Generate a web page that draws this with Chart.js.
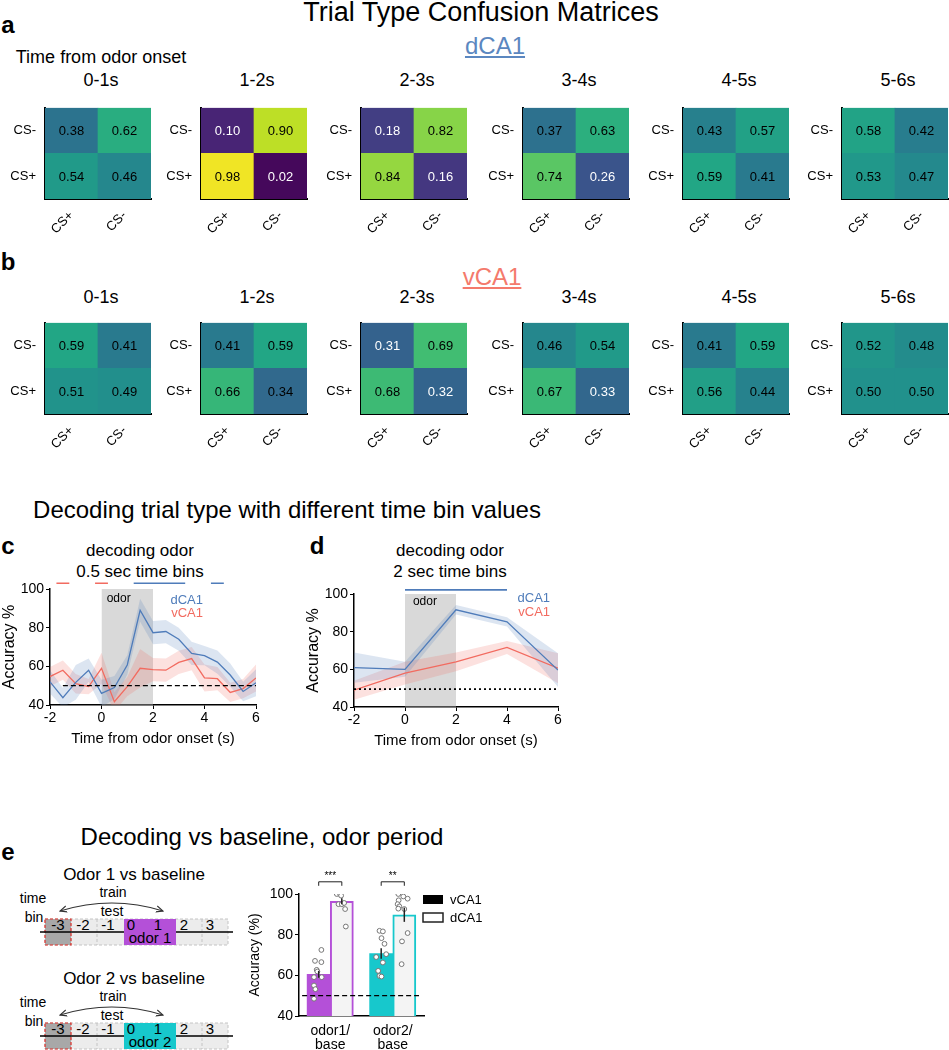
<!DOCTYPE html>
<html>
<head>
<meta charset="utf-8">
<script src="https://cdn.jsdelivr.net/npm/chart.js@4.4.1/dist/chart.umd.min.js"></script>
<style>
  body { margin: 0; background: #fff; }
  #fig { position: relative; width: 949px; height: 1050px; overflow: hidden; background: #fff;
         font-family: 'Liberation Sans', Arial, sans-serif; color: #000; }
  .t { position: absolute; transform: translate(-50%, -50%); white-space: nowrap; line-height: 1; }
  .p { font-weight: bold; font-size: 24px; }
  canvas { position: absolute; }
  svg { position: absolute; left: 0; top: 0; }
</style>
</head>
<body>
<div id="fig">
  <div class="t" style="left:481px;top:12px;font-size:27px">Trial Type Confusion Matrices</div>
  <div class="t p" style="left:8px;top:25px">a</div>
  <div class="t" style="left:495px;top:46px;font-size:24px;color:#5b87c0;text-decoration:underline">dCA1</div>
  <div class="t" style="left:101px;top:57px;font-size:18px">Time from odor onset</div>
  <div class="t p" style="left:8px;top:262px">b</div>
  <div class="t" style="left:492px;top:277px;font-size:24px;color:#f47a6c;text-decoration:underline">vCA1</div>

  <div class="t" style="left:287px;top:510px;font-size:24px">Decoding trial type with different time bin values</div>
  <div class="t p" style="left:8px;top:546px">c</div>
  <div class="t" style="left:140px;top:550px;font-size:17px">decoding odor</div>
  <div class="t" style="left:140px;top:571px;font-size:17px">0.5 sec time bins</div>
  <div class="t p" style="left:317px;top:546px">d</div>
  <div class="t" style="left:450px;top:550px;font-size:17px">decoding odor</div>
  <div class="t" style="left:450px;top:571px;font-size:17px">2 sec time bins</div>

  <div class="t" style="left:262px;top:837px;font-size:24px">Decoding vs baseline, odor period</div>
  <div class="t p" style="left:8px;top:852px">e</div>
  <svg id="schem" width="240" height="1050"></svg>
</div>
<script>
// ---- confusion matrices (rows: true CS-, CS+ ; columns: predicted CS+, CS-)
const timeBins = ['0-1s', '1-2s', '2-3s', '3-4s', '4-5s', '5-6s'];
const trueLabels = ['CS-', 'CS+'];
const predLabels = ['CS+', 'CS-'];
const dCA1RowMinus = [[0.38, 0.62], [0.10, 0.90], [0.18, 0.82], [0.37, 0.63], [0.43, 0.57], [0.58, 0.42]];
const dCA1RowPlus  = [[0.54, 0.46], [0.98, 0.02], [0.84, 0.16], [0.74, 0.26], [0.59, 0.41], [0.53, 0.47]];
const vCA1RowMinus = [[0.59, 0.41], [0.41, 0.59], [0.31, 0.69], [0.46, 0.54], [0.41, 0.59], [0.52, 0.48]];
const vCA1RowPlus  = [[0.51, 0.49], [0.66, 0.34], [0.68, 0.32], [0.67, 0.33], [0.56, 0.44], [0.50, 0.50]];

// ---- decoding accuracy, 0.5 s bins
const times05 = [-2, -1.5, -1, -0.5, 0, 0.5, 1, 1.5, 2, 2.5, 3, 3.5, 4, 4.5, 5, 5.5, 6];
const dCA1Acc05 = [52, 43.8, 51.7, 58, 46, 49, 60.7, 89, 77.4, 78, 74, 66.7, 65.5, 62.2, 55.5, 47, 51.5];
const dCA1Sem05 = [6, 5, 9, 6, 7, 6, 5, 6, 6, 6, 6, 6, 5, 6, 6, 5, 7];
const vCA1Acc05 = [54.7, 58, 51, 49.5, 59, 41.7, 49.5, 59, 58.3, 58, 62, 64, 54, 53.6, 46.5, 48.5, 54];
const vCA1Sem05 = [5, 5, 5, 4, 8, 5, 5, 10, 6, 6, 6, 6, 7, 6, 5, 5, 7];
const sigV05 = [[-1.75, -1.25], [-0.25, 0.25]];
const sigD05 = [[1.25, 3.25], [4.25, 4.75]];

// ---- decoding accuracy, 2 s bins
const times2 = [-2, 0, 2, 4, 6];
const dCA1Acc2 = [60.9, 60, 91.6, 85.2, 59.6];
const dCA1Sem2 = [8, 4, 2.5, 2.5, 9];
const vCA1Acc2 = [48.9, 58, 64, 71.6, 60.6];
const vCA1Sem2 = [5, 6, 5, 3.5, 8];
const sigD2 = [[0, 4]];

// ---- decoding vs baseline (bar chart)
const barGroups = [['odor1/', 'base'], ['odor2/', 'base']];
const vCA1Mean = [60.5, 70.7];
const vCA1Sem = [1.7, 2.6];
const dCA1Mean = [96.4, 89.8];
const dCA1Sem = [1.5, 3.5];
const sigStars = ['***', '**'];
const odor1VDots = [72.5, 67.1, 66.5, 62.7, 61.9, 59.1, 59.1, 55.0, 53.2, 48.5];
const odor1VJit  = [0.043, -0.059, 0.043, -0.032, -0.021, -0.075, 0.048, -0.075, -0.053, -0.075];
const odor1DDots = [100, 100, 99.2, 95, 95, 95.6, 92.6, 84];
const odor1DJit  = [-0.08, -0.027, -0.011, -0.053, 0, 0.037, 0.053, 0.064];
const odor2VDots = [81.9, 81.6, 78.3, 75.5, 69, 70.4, 66.3, 62.2, 59.7, 59.4];
const odor2VJit  = [-0.027, 0.027, 0.005, 0.053, -0.08, 0.08, 0.027, -0.048, -0.027, 0.005];
const odor2DDots = [100, 98.8, 97.7, 96.9, 95, 93.9, 92.8, 92.6, 80.8, 76.7, 65.5];
const odor2DJit  = [-0.096, -0.016, 0.053, -0.091, -0.107, -0.08, -0.096, 0, 0.053, -0.037, -0.043];

const FONT = "'Liberation Sans', Arial, sans-serif";
const BLUE = '#4f7cba', RED = '#f26b60', PURPLE = '#b450d8', CYAN = '#17c8cc';

Chart.defaults.font.family = FONT;
Chart.defaults.color = '#000';
Chart.defaults.animation = false;
Chart.defaults.plugins.legend.display = false;
Chart.defaults.plugins.tooltip.enabled = false;

const fig = document.getElementById('fig');

function addCanvas(left, top, w, h) {
  const c = document.createElement('canvas');
  c.width = w; c.height = h;
  c.style.left = left + 'px'; c.style.top = top + 'px';
  c.style.width = w + 'px'; c.style.height = h + 'px';
  fig.appendChild(c);
  return c;
}

function addText(str, x, y, size) {
  const d = document.createElement('div');
  d.className = 't';
  d.style.left = x + 'px'; d.style.top = y + 'px'; d.style.fontSize = size + 'px';
  d.textContent = str;
  fig.appendChild(d);
}

// viridis colormap
const VIRIDIS = ['#440154', '#482475', '#414487', '#355f8d', '#2a788e', '#21918c',
                 '#22a884', '#44bf70', '#7ad151', '#bddf26', '#fde725'];
function viridis(v) {
  const t = Math.max(0, Math.min(1, v)) * 10;
  const i = Math.min(9, Math.floor(t)), f = t - i;
  const a = VIRIDIS[i], b = VIRIDIS[i + 1];
  const ch = (h, k) => parseInt(h.substr(1 + 2 * k, 2), 16);
  const c = [0, 1, 2].map(k => Math.round(ch(a, k) + (ch(b, k) - ch(a, k)) * f));
  return `rgb(${c[0]},${c[1]},${c[2]})`;
}

const cellText = {
  id: 'cellText',
  afterDatasetsDraw(chart) {
    const ctx = chart.ctx;
    ctx.save();
    ctx.font = `13px ${FONT}`;
    ctx.textAlign = 'center';
    ctx.textBaseline = 'middle';
    chart.data.datasets.forEach((ds, i) => {
      chart.getDatasetMeta(i).data.forEach((bar, j) => {
        const v = ds.values[j];
        const p = bar.getCenterPoint();
        ctx.fillStyle = v < 0.335 ? '#fff' : '#000';
        ctx.fillText(v.toFixed(2), p.x, p.y + 1);
      });
    });
    ctx.restore();
  }
};

const matrixLeft = [45, 201, 361, 523, 683, 842];
const MSIZE = 106;

function makeMatrix(left, top, rowMinus, rowPlus) {
  const cv = addCanvas(left - 45, top - 2, 45 + MSIZE + 2, 2 + MSIZE + 52);
  new Chart(cv, {
    type: 'bar',
    data: {
      labels: predLabels,
      datasets: [
        { label: trueLabels[1], data: rowPlus.map(() => 1), values: rowPlus, backgroundColor: rowPlus.map(viridis) },
        { label: trueLabels[0], data: rowMinus.map(() => 1), values: rowMinus, backgroundColor: rowMinus.map(viridis) }
      ]
    },
    options: {
      responsive: false,
      layout: { padding: { top: 2, right: 2 } },
      datasets: { bar: { categoryPercentage: 1, barPercentage: 1, borderWidth: 0 } },
      scales: {
        x: {
          stacked: true,
          grid: { display: false, drawTicks: false },
          border: { color: '#000', width: 2 },
          ticks: { minRotation: 45, maxRotation: 45, padding: 9, font: { size: 13 } },
          afterFit: s => { s.height = 52; }
        },
        y: {
          stacked: true, min: 0, max: 2,
          grid: { display: false, drawTicks: false },
          border: { color: '#000', width: 2 },
          afterBuildTicks: a => { a.ticks = [{ value: 0.5 }, { value: 1.5 }]; },
          ticks: { callback: v => (v < 1 ? trueLabels[1] : trueLabels[0]), padding: 9, font: { size: 13 } },
          afterFit: s => { s.width = 45; }
        }
      }
    },
    plugins: [cellText]
  });
}

timeBins.forEach((bin, k) => {
  addText(bin, matrixLeft[k] + MSIZE / 2 + 3, 80, 18);
  makeMatrix(matrixLeft[k], 93, dCA1RowMinus[k], dCA1RowPlus[k]);
  addText(bin, matrixLeft[k] + MSIZE / 2 + 3, 297, 18);
  makeMatrix(matrixLeft[k], 308, vCA1RowMinus[k], vCA1RowPlus[k]);
});

// ---- line charts
const inText = {
  id: 'inText',
  afterDatasetsDraw(chart, args, opts) {
    const { ctx, scales: { x, y } } = chart;
    ctx.save();
    ctx.textBaseline = 'middle';
    (opts.items || []).forEach(it => {
      ctx.font = `${it.size}px ${FONT}`;
      ctx.fillStyle = it.color;
      ctx.textAlign = it.align || 'left';
      ctx.fillText(it.text, x.getPixelForValue(it.x), y.getPixelForValue(it.y));
    });
    ctx.restore();
  }
};

function bandSets(times, mean, sem, color, fillColor) {
  return [
    { data: times.map((t, i) => ({ x: t, y: mean[i] + sem[i] })), borderWidth: 0, pointRadius: 0, fill: false, order: 3 },
    { data: times.map((t, i) => ({ x: t, y: mean[i] - sem[i] })), borderWidth: 0, pointRadius: 0, fill: '-1', backgroundColor: fillColor, order: 3 },
    { data: times.map((t, i) => ({ x: t, y: mean[i] })), borderColor: color, borderWidth: 1.3, pointRadius: 0, fill: false, order: 1 }
  ];
}

function sigSet(ranges, yv, color) {
  const pts = [];
  ranges.forEach(([a, b]) => { pts.push({ x: a, y: yv }, { x: b, y: yv }, { x: b, y: null }); });
  return { data: pts, borderColor: color, borderWidth: 1.6, pointRadius: 0, fill: false, clip: false, spanGaps: false, order: 0 };
}

function odorBox() {
  return { data: [{ x: 0, y: 100 }, { x: 2, y: 100 }], fill: 'start', backgroundColor: 'rgba(170,170,170,0.45)',
           borderWidth: 0, pointRadius: 0, order: 6 };
}

function lineOptions(items) {
  const tickGrid = { drawOnChartArea: false, color: '#000', tickLength: 4, lineWidth: 1 };
  return {
    responsive: false,
    layout: { padding: { top: 14, right: 8 } },
    scales: {
      x: {
        type: 'linear', min: -2, max: 6,
        ticks: { stepSize: 2, font: { size: 14 }, padding: 1 },
        grid: tickGrid,
        border: { color: '#000', width: 1.5 },
        title: { display: true, text: 'Time from odor onset (s)', font: { size: 15 }, padding: { top: 1, bottom: 2 } },
        afterFit: s => { s.height = 45; }
      },
      y: {
        min: 40, max: 100,
        ticks: { stepSize: 10, font: { size: 14 }, padding: 2 },
        grid: tickGrid,
        border: { color: '#000', width: 1.5 },
        title: { display: true, text: 'Accuracy %', font: { size: 16 }, padding: { top: 0, bottom: 2 } },
        afterFit: s => { s.width = 50; }
      }
    },
    plugins: { inText: { items } }
  };
}

new Chart(addCanvas(0, 575, 264, 175), {
  type: 'line',
  data: {
    datasets: [
      odorBox(),
      ...bandSets(times05, dCA1Acc05, dCA1Sem05, BLUE, 'rgba(79,124,186,0.2)'),
      ...bandSets(times05, vCA1Acc05, vCA1Sem05, RED, 'rgba(242,107,96,0.2)'),
      { data: [{ x: -1.5, y: 50 }, { x: 6, y: 50 }], borderColor: '#000', borderDash: [5, 3], borderWidth: 1.2, pointRadius: 0, order: 0 },
      sigSet(sigV05, 103, RED),
      sigSet(sigD05, 103, BLUE)
    ]
  },
  options: lineOptions([
    { text: 'odor', x: 0.2, y: 95.2, size: 12, color: '#000' },
    { text: 'dCA1', x: 3.94, y: 94.3, size: 13, color: BLUE, align: 'right' },
    { text: 'vCA1', x: 3.94, y: 87.2, size: 13, color: RED, align: 'right' }
  ]),
  plugins: [inText]
});

new Chart(addCanvas(304, 580, 262, 172), {
  type: 'line',
  data: {
    datasets: [
      odorBox(),
      ...bandSets(times2, dCA1Acc2, dCA1Sem2, BLUE, 'rgba(79,124,186,0.2)'),
      ...bandSets(times2, vCA1Acc2, vCA1Sem2, RED, 'rgba(242,107,96,0.2)'),
      { data: [{ x: -2, y: 49.5 }, { x: 6, y: 49.5 }], borderColor: '#000', borderDash: [2, 3], borderWidth: 1.8, pointRadius: 0, order: 0 },
      sigSet(sigD2, 102.2, BLUE)
    ]
  },
  options: lineOptions([
    { text: 'odor', x: 0.31, y: 96, size: 12, color: '#000' },
    { text: 'dCA1', x: 5.69, y: 97.7, size: 13, color: BLUE, align: 'right' },
    { text: 'vCA1', x: 5.69, y: 90.4, size: 13, color: RED, align: 'right' }
  ]),
  plugins: [inText]
});

// ---- bar chart (linear x axis: group i sits at x = i, two bars side by side)
const groupColors = [PURPLE, CYAN];
const HALF = 0.185; // half of one bar width, in group units
function barPoints(vals, side) {
  return vals.map((v, g) => ({ x: g + side * HALF, y: v }));
}
function dots(vals, jit, group, side) {
  return vals.map((v, i) => ({ x: group + side * HALF + jit[i], y: v }));
}

const barExtras = {
  id: 'barExtras',
  afterDatasetsDraw(chart) {
    const { ctx, chartArea, scales: { y } } = chart;
    ctx.save();
    ctx.strokeStyle = '#222';
    ctx.lineWidth = 1.5;
    [0, 1].forEach(di => {
      const ds = chart.data.datasets[di];
      chart.getDatasetMeta(di).data.forEach((bar, j) => {
        const m = ds.data[j].y, e = ds.sem[j];
        ctx.beginPath();
        ctx.moveTo(bar.x, y.getPixelForValue(m + e));
        ctx.lineTo(bar.x, y.getPixelForValue(m - e));
        ctx.stroke();
      });
    });
    // significance brackets
    const m0 = chart.getDatasetMeta(0).data, m1 = chart.getDatasetMeta(1).data;
    ctx.lineWidth = 1;
    ctx.fillStyle = '#000';
    ctx.textAlign = 'center';
    ctx.textBaseline = 'bottom';
    ctx.font = `10px ${FONT}`;
    sigStars.forEach((s, j) => {
      const yb = y.getPixelForValue(106);
      ctx.beginPath();
      ctx.moveTo(m0[j].x, yb + 4); ctx.lineTo(m0[j].x, yb);
      ctx.lineTo(m1[j].x, yb); ctx.lineTo(m1[j].x, yb + 4);
      ctx.stroke();
      ctx.fillText(s, (m0[j].x + m1[j].x) / 2, yb - 1);
    });
    // legend
    ctx.font = `13px ${FONT}`;
    ctx.textAlign = 'left';
    ctx.textBaseline = 'middle';
    const lx = chartArea.right - 1, ly = chartArea.top + 1;
    ctx.fillStyle = '#000';
    ctx.fillRect(lx, ly, 20, 9);
    ctx.fillText(chart.data.datasets[0].label, lx + 27, ly + 5);
    ctx.fillStyle = '#fff';
    ctx.lineWidth = 1.5;
    ctx.fillRect(lx, ly + 18, 20, 9);
    ctx.strokeRect(lx, ly + 18, 20, 9);
    ctx.fillStyle = '#000';
    ctx.fillText(chart.data.datasets[1].label, lx + 27, ly + 23);
    ctx.restore();
  }
};

new Chart(addCanvas(247, 868, 257, 182), {
  type: 'bar',
  data: {
    datasets: [
      { label: 'vCA1', data: barPoints(vCA1Mean, -1), sem: vCA1Sem, backgroundColor: groupColors, borderWidth: 0, order: 3 },
      { label: 'dCA1', data: barPoints(dCA1Mean, 1), sem: dCA1Sem, backgroundColor: '#f4f4f4', borderColor: groupColors,
        borderWidth: 2, borderSkipped: false, order: 3 },
      { type: 'scatter', order: 1,
        data: [...dots(odor1VDots, odor1VJit, 0, -1), ...dots(odor1DDots, odor1DJit, 0, 1),
               ...dots(odor2VDots, odor2VJit, 1, -1), ...dots(odor2DDots, odor2DJit, 1, 1)],
        pointRadius: 2.4, pointBackgroundColor: '#fff', pointBorderColor: '#777', pointBorderWidth: 1 },
      { type: 'line', order: 0, data: [{ x: -0.45, y: 50 }, { x: 1.42, y: 50 }],
        borderColor: '#000', borderDash: [5, 3], borderWidth: 1.2, pointRadius: 0, fill: false }
    ]
  },
  options: {
    responsive: false,
    layout: { padding: { top: 26, right: 80 } },
    datasets: { bar: { grouped: false, categoryPercentage: 1, barPercentage: 1 } },
    scales: {
      x: {
        type: 'linear', min: -0.5, max: 1.5, offset: false,
        afterBuildTicks: a => { a.ticks = barGroups.map((g, i) => ({ value: i })); },
        grid: { display: false, drawTicks: false, offset: false },
        border: { color: '#000', width: 1.5 },
        ticks: { callback: v => barGroups[v], font: { size: 14, lineHeight: 1 }, padding: 8 },
        afterFit: s => { s.height = 34; }
      },
      y: {
        min: 40, max: 100,
        ticks: { stepSize: 20, font: { size: 14 }, padding: 2 },
        grid: { drawOnChartArea: false, color: '#000', tickLength: 4 },
        border: { color: '#000', width: 1.5 },
        title: { display: true, text: 'Accuracy (%)', font: { size: 14 }, padding: { top: 0, bottom: 2 } },
        afterFit: s => { s.width = 52; }
      }
    }
  },
  plugins: [barExtras]
});

// ---- schematic of training / testing bins (panel e, left)
function schematic(dy, color, title, odorName) {
  const top = 919 + dy, h = 26, mid = 932 + dy;
  let s = '';
  s += `<text x="134" y="${880 + dy}" font-size="17" text-anchor="middle">${title}</text>`;
  s += `<text x="33" y="${903 + dy}" font-size="14" text-anchor="middle">time</text>`;
  s += `<text x="34" y="${922 + dy}" font-size="14" text-anchor="middle">bin</text>`;
  s += `<text x="113" y="${897 + dy}" font-size="14" text-anchor="middle">train</text>`;
  s += `<text x="112" y="${916 + dy}" font-size="14" text-anchor="middle">test</text>`;
  s += `<path d="M60,${911 + dy} Q112,${895 + dy} 163,${911 + dy}" fill="none" stroke="#333" stroke-width="1.1" marker-start="url(#ah)" marker-end="url(#ah)"/>`;
  s += `<rect x="45" y="${top}" width="183" height="${h}" fill="#ececec" stroke="#c4c4c4" stroke-dasharray="3,2"/>`;
  [71, 97, 202].forEach(x => { s += `<line x1="${x}" y1="${top}" x2="${x}" y2="${top + h}" stroke="#c4c4c4" stroke-dasharray="3,2"/>`; });
  s += `<rect x="45" y="${top}" width="26" height="${h}" fill="#a8a8a8" stroke="#e0312b" stroke-dasharray="3,2" stroke-width="1.2"/>`;
  s += `<line x1="40" y1="${mid}" x2="233" y2="${mid}" stroke="#000" stroke-width="1.4"/>`;
  s += `<rect x="124" y="${top}" width="52" height="${h}" fill="${color}"/>`;
  const labs = [['-3', 58], ['-2', 83], ['-1', 108], ['0', 131], ['1', 158], ['2', 184], ['3', 210]];
  labs.forEach(([t, x]) => { s += `<text x="${x}" y="${930 + dy}" font-size="15" text-anchor="middle">${t}</text>`; });
  s += `<text x="150" y="${943 + dy}" font-size="15" text-anchor="middle">${odorName}</text>`;
  return s;
}

document.getElementById('schem').innerHTML =
  `<defs><marker id="ah" viewBox="0 0 10 10" refX="9" refY="5" markerWidth="7" markerHeight="7" orient="auto-start-reverse">` +
  `<path d="M0,1 L9,5 L0,9" fill="none" stroke="#333" stroke-width="1.4"/></marker></defs>` +
  `<g font-family="'Liberation Sans', Arial, sans-serif">` +
  schematic(0, PURPLE, 'Odor 1 vs baseline', 'odor 1') +
  schematic(104, CYAN, 'Odor 2 vs baseline', 'odor 2') + `</g>`;
</script>
</body>
</html>
